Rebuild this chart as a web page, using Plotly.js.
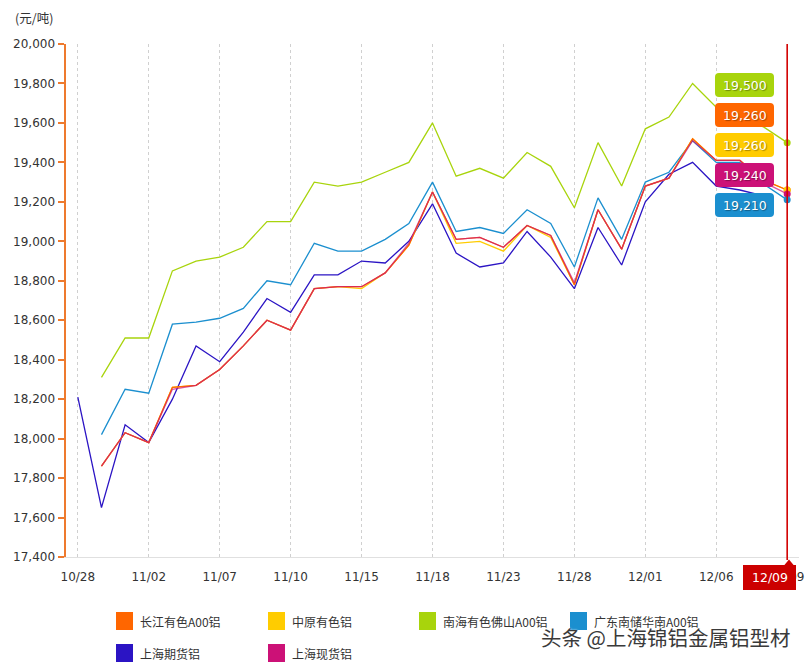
<!DOCTYPE html>
<html><head><meta charset="utf-8">
<script src="https://cdn.plot.ly/plotly-3.0.1.min.js"></script>
<style>html,body{margin:0;padding:0;background:#fff}#chart{width:807px;height:667px}</style>
</head><body><div id="chart"></div><script>
const dates = ['10/28','10/31','11/01','11/02','11/03','11/04','11/07','11/08','11/09','11/10','11/11','11/14','11/15','11/16','11/17','11/18','11/21','11/22','11/23','11/24','11/25','11/28','11/29','11/30','12/01','12/02','12/05','12/06','12/07','12/08','12/09'];
const tickDates = ['10/28','11/02','11/07','11/10','11/15','11/18','11/23','11/28','12/01','12/06','12/09'];
const changjiang = [null,17860,18030,17980,18260,18270,18350,18470,18600,18550,18760,18770,18770,18840,18980,19250,19010,19020,18970,19080,19030,18780,19160,18960,19280,19320,19520,19410,19410,19310,19260];
const zhongyuan  = [null,17860,18030,17980,18260,18270,18350,18470,18600,18550,18760,18770,18760,18840,18980,19250,18990,19000,18950,19080,19020,18780,19160,18960,19280,19320,19520,19410,19410,19310,19260];
const nanhai     = [null,18310,18510,18510,18850,18900,18920,18970,19100,19100,19300,19280,19300,19350,19400,19600,19330,19370,19320,19450,19380,19170,19500,19280,19570,19630,19800,19680,19620,19580,19500];
const guangdong  = [null,18020,18250,18230,18580,18590,18610,18660,18800,18780,18990,18950,18950,19010,19090,19300,19050,19070,19040,19160,19090,18870,19220,19010,19300,19350,19510,19400,19400,19290,19210];
const shqh       = [18210,17650,18070,17980,18200,18470,18390,18540,18710,18640,18830,18830,18900,18890,19000,19190,18940,18870,18890,19050,18920,18760,19070,18880,19200,19340,19400,19280,19260,19230,null];
const shxh       = [null,17860,18030,17980,18250,18270,18350,18470,18600,18550,18760,18770,18770,18840,18990,19250,19010,19020,18970,19080,19030,18790,19160,18960,19280,19320,19510,19410,19410,19300,19240];
const seriesNames = ['长江有色A00铝','中原有色铝','南海有色佛山A00铝','广东南储华南A00铝','上海期货铝','上海现货铝'];
const seriesColors = ['#FF6600','#FFCC00','#A8D40C','#1B8FCF','#2B14C4','#CC1177'];
const yUnit = '(元/吨)';
const watermark = '头条 @上海锦铝金属铝型材';

const allSeries = [changjiang, zhongyuan, nanhai, guangdong, shqh, shxh];
const NUM = 'DejaVu Sans, Verdana, sans-serif';
const CJK = 'Noto Sans CJK SC, sans-serif';

// plot area in pixels
const L = 66, R = 799, T = 44, B = 557;
const px = x => (x - L) / (R - L);
const py = y => (B - y) / (B - T);

const drawOrder = [2, 3, 4, 1, 0, 5];
const traces = [];
drawOrder.forEach(i => {
  traces.push({
    type: 'scatter', mode: 'lines', x: dates, y: allSeries[i], name: seriesNames[i],
    line: {color: seriesColors[i], width: 1.3}, opacity: i === 5 ? 0.7 : 1,
    connectgaps: false, hoverinfo: 'skip', showlegend: false
  });
});
// end markers for series with a last value
const labelOrder = [2, 0, 1, 5, 3];
labelOrder.forEach(i => {
  const s = allSeries[i];
  const last = s.length - 1;
  traces.push({
    type: 'scatter', mode: 'markers', x: [dates[last]], y: [s[last]],
    marker: {color: seriesColors[i], size: 7}, showlegend: false, hoverinfo: 'skip'
  });
});

const shapes = [];
const annotations = [];

function roundRect(x0, y0, x1, y1, r, color) {
  const P = (x, y) => px(x).toFixed(5) + ',' + py(y).toFixed(5);
  const path = 'M' + P(x0 + r, y0) + ' L' + P(x1 - r, y0) + ' Q' + P(x1, y0) + ' ' + P(x1, y0 + r) +
    ' L' + P(x1, y1 - r) + ' Q' + P(x1, y1) + ' ' + P(x1 - r, y1) +
    ' L' + P(x0 + r, y1) + ' Q' + P(x0, y1) + ' ' + P(x0, y1 - r) +
    ' L' + P(x0, y0 + r) + ' Q' + P(x0, y0) + ' ' + P(x0 + r, y0) + ' Z';
  shapes.push({type: 'path', xref: 'paper', yref: 'paper', path: path, fillcolor: color, line: {width: 0}, layer: 'above'});
}

// crosshair at last date
shapes.push({type: 'line', xref: 'x', yref: 'paper', x0: dates.length - 1, x1: dates.length - 1, y0: py(560), y1: 1,
  line: {color: '#D20000', width: 1.6}, layer: 'above'});

// value labels
labelOrder.forEach((i, k) => {
  const cy = 85 + k * 30;
  roundRect(715, cy - 12, 774, cy + 12, 4, seriesColors[i]);
  const s = allSeries[i];
  annotations.push({xref: 'paper', yref: 'paper', x: px(744.5), y: py(cy), xanchor: 'center', yanchor: 'middle',
    text: s[s.length - 1].toLocaleString('en-US'), showarrow: false,
    font: {family: NUM, size: 12.5, color: '#ffffff', shadow: '1px 1px 1px rgba(0,0,0,0.35)'}});
});

// red date box at the bottom
shapes.push({type: 'rect', xref: 'paper', yref: 'paper', x0: px(743), x1: px(796), y0: py(590), y1: py(565),
  fillcolor: '#CC0000', line: {width: 0}, layer: 'above'});
shapes.push({type: 'path', xref: 'paper', yref: 'paper',
  path: 'M' + px(784) + ',' + py(565.5) + ' L' + px(789) + ',' + py(559.5) + ' L' + px(794) + ',' + py(565.5) + ' Z',
  fillcolor: '#CC0000', line: {width: 0}, layer: 'above'});
annotations.push({xref: 'paper', yref: 'paper', x: px(769.5), y: py(577.5), xanchor: 'center', yanchor: 'middle',
  text: dates[dates.length - 1], showarrow: false, font: {family: NUM, size: 12.5, color: '#ffffff'}});

// legend
const legendPos = [[116, 621], [268, 621], [419, 621], [570, 621], [116, 653], [268, 653]];
seriesNames.forEach((n, i) => {
  const [lx, ly] = legendPos[i];
  shapes.push({type: 'rect', xref: 'paper', yref: 'paper', x0: px(lx), x1: px(lx + 17), y0: py(ly + 9), y1: py(ly - 9),
    fillcolor: seriesColors[i], line: {width: 0}, layer: 'above'});
  annotations.push({xref: 'paper', yref: 'paper', x: px(lx + 22), y: py(ly), xanchor: 'left', yanchor: 'middle',
    text: n, showarrow: false, font: {family: CJK, size: 12, color: '#333333'}});
});

// y unit
annotations.push({xref: 'paper', yref: 'paper', x: px(34), y: py(18), xanchor: 'center', yanchor: 'middle',
  text: yUnit, showarrow: false, font: {family: CJK, size: 12.5, color: '#333333'}});
// watermark
annotations.push({xref: 'paper', yref: 'paper', x: px(665), y: py(637), xanchor: 'center', yanchor: 'middle',
  text: watermark, showarrow: false,
  font: {family: CJK, size: 20.5, color: '#3a3a3a', shadow: '0px 0px 2px #ffffff'}});

const layout = {
  width: 807, height: 667,
  margin: {l: L, r: 807 - R, t: T, b: 667 - B},
  paper_bgcolor: '#ffffff', plot_bgcolor: '#ffffff',
  showlegend: false,
  xaxis: {
    type: 'category', range: [-0.5, dates.length - 0.5],
    tickmode: 'array', tickvals: tickDates, ticktext: tickDates,
    showgrid: true, gridcolor: '#d0d0d0', griddash: 'dot', gridwidth: 1,
    showline: true, linecolor: '#e0e0e0', linewidth: 1,
    ticks: 'outside', ticklen: 9, tickcolor: 'rgba(0,0,0,0)',
    tickfont: {family: NUM, size: 12, color: '#333333'}, zeroline: false, fixedrange: true
  },
  yaxis: {
    range: [17400, 20000], dtick: 200, tick0: 17400, tickformat: ',d',
    showgrid: false, zeroline: false,
    showline: true, linecolor: '#EE7A2E', linewidth: 2.5,
    ticks: 'outside', ticklen: 6, tickwidth: 2, tickcolor: '#EE7A2E',
    tickfont: {family: NUM, size: 12, color: '#333333'}, fixedrange: true
  },
  shapes: shapes,
  annotations: annotations
};
Plotly.newPlot('chart', traces, layout, {displayModeBar: false, staticPlot: true});
</script></body></html>
